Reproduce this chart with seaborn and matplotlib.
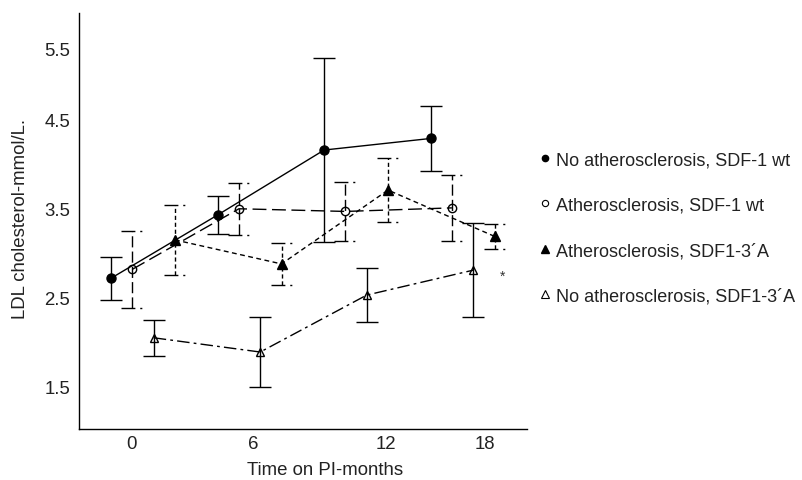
import matplotlib
matplotlib.use("Agg")
import matplotlib.pyplot as plt
from matplotlib.lines import Line2D
import numpy as np
import pandas as pd
import seaborn as sns

# ---- data -------------------------------------------------------------
months = [0, 6, 12, 18]

groups = [
    "No atherosclerosis, SDF-1 wt",
    "Atherosclerosis, SDF-1 wt",
    "Atherosclerosis, SDF1-3\u00b4A",
    "No atherosclerosis, SDF1-3\u00b4A",
]

# mean LDL cholesterol (mmol/L) and error half-widths
ldl_no_ath_wt = [2.72, 3.43, 4.16, 4.29]
err_no_ath_wt = [0.24, 0.21, 1.03, 0.36]

ldl_ath_wt = [2.82, 3.50, 3.47, 3.51]
err_ath_wt = [0.43, 0.29, 0.33, 0.37]

ldl_ath_3a = [3.15, 2.88, 3.71, 3.19]
err_ath_3a = [0.39, 0.24, 0.36, 0.14]

ldl_no_ath_3a = [2.05, 1.89, 2.53, 2.81]
err_no_ath_3a = [0.20, 0.39, 0.30, 0.53]

x_tick_labels = ["0", "6", "12", "18"]
y_tick_labels = ["1.5", "2.5", "3.5", "4.5", "5.5"]

# ---- layout / style ---------------------------------------------------
x_tick_pos = [-0.68, 6.2, 13.69, 19.27]
y_tick_pos = [1.5, 2.5, 3.5, 4.5, 5.3]

LONG = (0, (10, 4))
SHORT = (0, (3.5, 2.5))
DASHDOT = (0, (9, 3, 2, 3))
CAPDOT = (0, (10, 3.5, 1.5, 3.5))

styles = {
    groups[0]: dict(dodge=-1.8, marker="o", ms=6.5, mfc="k", ls="-",
                    bar_ls="-", cap_ls="-"),
    groups[1]: dict(dodge=-0.6, marker="o", ms=6.0, mfc="none", ls=LONG,
                    bar_ls=(0, (8, 3)), cap_ls=CAPDOT),
    groups[2]: dict(dodge=1.8, marker="^", ms=6.5, mfc="k", ls=SHORT,
                    bar_ls=(0, (3, 2)), cap_ls=CAPDOT),
    groups[3]: dict(dodge=0.6, marker="^", ms=6.0, mfc="none", ls=DASHDOT,
                    bar_ls="-", cap_ls="-"),
}
cap_half = 0.62
FS = 13.4
TXT = "#222222"

values = [ldl_no_ath_wt, ldl_ath_wt, ldl_ath_3a, ldl_no_ath_3a]
errors = [err_no_ath_wt, err_ath_wt, err_ath_3a, err_no_ath_3a]

rows = []
for g, v, e in zip(groups, values, errors):
    for m, vi, ei in zip(months, v, e):
        rows.append(dict(group=g, month=m, ldl=vi, err=ei))
df = pd.DataFrame(rows)
df["xpos"] = df["month"] + df["group"].map({g: s["dodge"] for g, s in styles.items()})

# ---- figure -----------------------------------------------------------
sns.set_style("white")
plt.rcParams["font.family"] = ["Liberation Sans", "DejaVu Sans"]
plt.rcParams["lines.scale_dashes"] = False

fig = plt.figure(figsize=(8.03, 4.81), dpi=100)
ax = fig.add_axes([79 / 803, 1 - 430 / 481, 448 / 803, 416 / 481])

for g in groups:
    s = styles[g]
    sub = df[df["group"] == g]
    sns.lineplot(data=sub, x="xpos", y="ldl", ax=ax, color="k", lw=1.0,
                 marker=s["marker"], ms=s["ms"], mfc=s["mfc"], mec="k",
                 mew=1.0, linestyle=s["ls"], errorbar=None, sort=False,
                 zorder=3)
    lo = sub["ldl"] - sub["err"]
    hi = sub["ldl"] + sub["err"]
    ax.vlines(sub["xpos"], lo, hi, colors="k", linewidth=1.0,
              linestyles=[s["bar_ls"]], zorder=2)
    for y in (lo, hi):
        ax.hlines(y, sub["xpos"] - cap_half, sub["xpos"] + cap_half,
                  colors="k", linewidth=1.0, linestyles=[s["cap_ls"]],
                  zorder=2)

# significance mark next to the last SDF1-3'A no-atherosclerosis point
last = df[df["group"] == groups[3]].iloc[-1]
ax.annotate("*", xy=(last["xpos"], last["ldl"]), xytext=(21, -4),
            textcoords="offset points", ha="center", va="center",
            fontsize=10, color="#333333")

ax.set_xlim(-3.61, 21.63)
ax.set_ylim(1.025, 5.70)
ax.set_xticks(x_tick_pos)
ax.set_xticklabels(x_tick_labels)
ax.set_yticks(y_tick_pos)
ax.set_yticklabels(y_tick_labels)
ax.tick_params(axis="both", length=0, labelsize=FS, colors=TXT)
ax.tick_params(axis="y", pad=6.5)
ax.tick_params(axis="x", pad=4.5)

ax.set_xlabel("Time on PI-months", fontsize=FS, color=TXT)
ax.set_ylabel("LDL cholesterol-mmol/L.", fontsize=FS, color=TXT)
ax.xaxis.set_label_coords(0.549, -0.078)
ax.yaxis.set_label_coords(-0.112, 0.507)

for side in ("top", "right"):
    ax.spines[side].set_visible(False)
for side in ("left", "bottom"):
    ax.spines[side].set_color("k")
    ax.spines[side].set_linewidth(1.0)

handles = [
    Line2D([], [], ls="none", marker="o", ms=4.5, mfc="k", mec="k"),
    Line2D([], [], ls="none", marker="o", ms=4.5, mfc="none", mec="k", mew=0.8),
    Line2D([], [], ls="none", marker="^", ms=6, mfc="k", mec="k"),
    Line2D([], [], ls="none", marker="^", ms=6, mfc="none", mec="k", mew=0.8),
]
fig.legend(handles, groups, loc="upper left",
           bbox_to_anchor=(540 / 803, 1 - 152 / 481), frameon=False,
           fontsize=13.0, handlelength=0.6, handletextpad=0.3,
           labelspacing=1.58, borderpad=0, borderaxespad=0,
           labelcolor=TXT)

fig.savefig("out.png", dpi=100)
